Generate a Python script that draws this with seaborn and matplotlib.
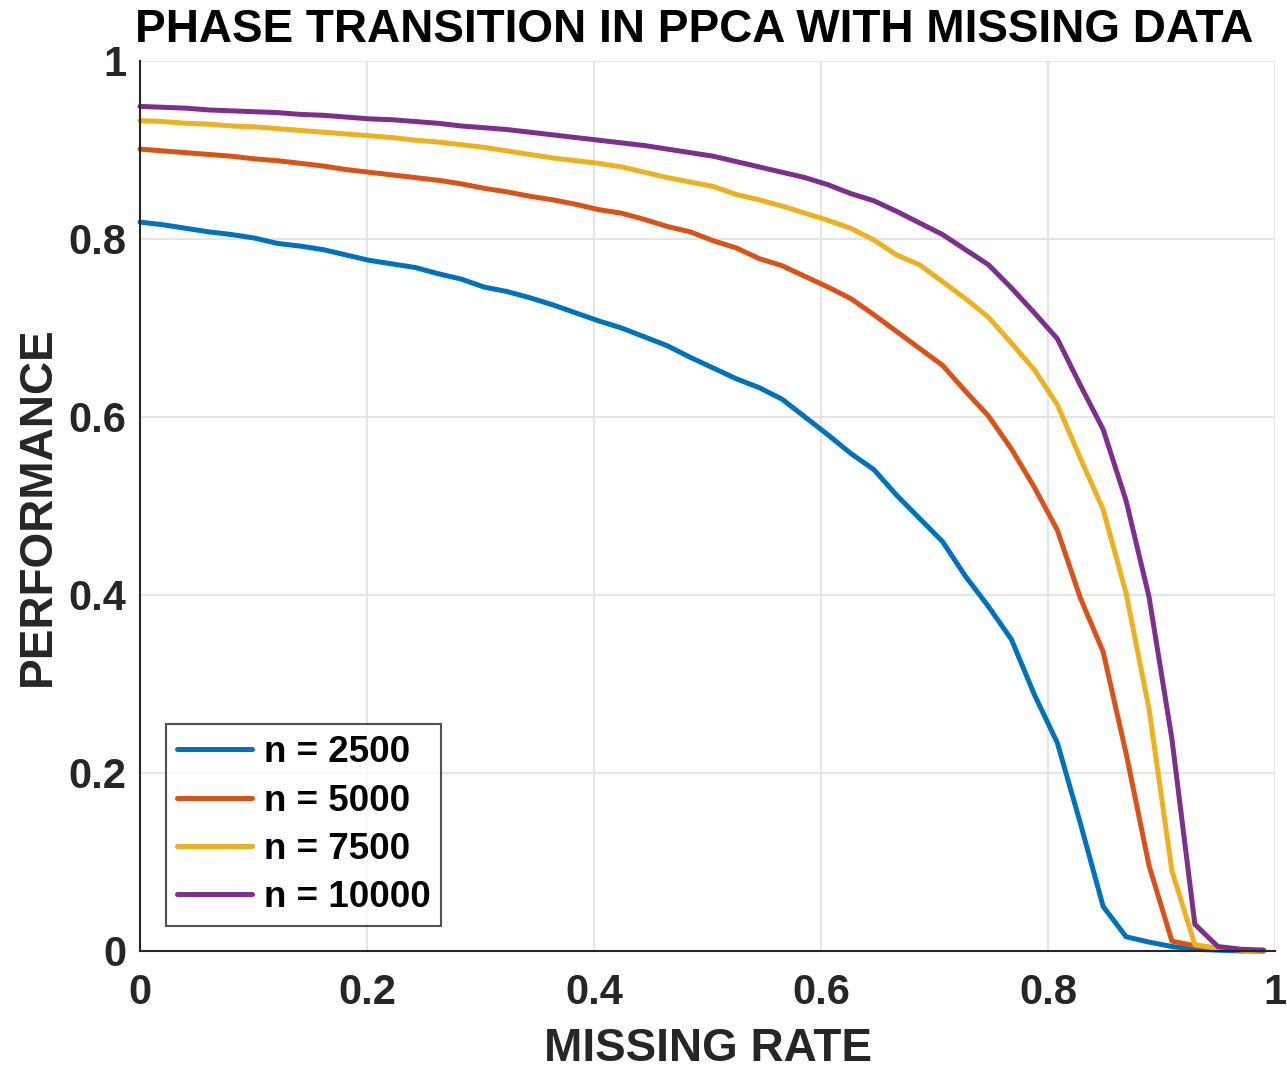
import numpy as np
import pandas as pd
import matplotlib
matplotlib.use("Agg")
import matplotlib.pyplot as plt
import seaborn as sns

# ---- data ----
missing_rate = [round(i * 0.99 / 49, 4) for i in range(50)]

perf_2500 = [0.819, 0.816, 0.812, 0.808, 0.805, 0.801, 0.795, 0.792, 0.788, 0.782,
             0.776, 0.772, 0.768, 0.761, 0.755, 0.746, 0.741, 0.734, 0.726, 0.717,
             0.708, 0.700, 0.690, 0.680, 0.667, 0.655, 0.643, 0.633, 0.620, 0.600,
             0.580, 0.559, 0.541, 0.512, 0.486, 0.460, 0.421, 0.387, 0.350, 0.288,
             0.234, 0.144, 0.050, 0.016, 0.010, 0.005, 0.002, 0.001, 0.000, 0.000]

perf_5000 = [0.901, 0.899, 0.897, 0.895, 0.893, 0.890, 0.888, 0.885, 0.882, 0.878,
             0.875, 0.872, 0.869, 0.866, 0.862, 0.857, 0.853, 0.848, 0.844, 0.839,
             0.833, 0.829, 0.822, 0.814, 0.808, 0.798, 0.790, 0.778, 0.770, 0.758,
             0.746, 0.733, 0.715, 0.696, 0.677, 0.658, 0.629, 0.601, 0.564, 0.521,
             0.473, 0.397, 0.336, 0.222, 0.096, 0.011, 0.006, 0.003, 0.001, 0.000]

perf_7500 = [0.933, 0.932, 0.930, 0.929, 0.927, 0.926, 0.924, 0.922, 0.920, 0.918,
             0.916, 0.914, 0.911, 0.909, 0.906, 0.903, 0.899, 0.895, 0.891, 0.888,
             0.885, 0.881, 0.875, 0.869, 0.864, 0.859, 0.850, 0.844, 0.837, 0.829,
             0.821, 0.812, 0.799, 0.782, 0.771, 0.752, 0.733, 0.712, 0.683, 0.653,
             0.614, 0.554, 0.496, 0.402, 0.272, 0.090, 0.007, 0.003, 0.001, 0.000]

perf_10000 = [0.949, 0.948, 0.947, 0.945, 0.944, 0.943, 0.942, 0.940, 0.939, 0.937,
              0.935, 0.934, 0.932, 0.930, 0.927, 0.925, 0.923, 0.920, 0.917, 0.914,
              0.911, 0.908, 0.905, 0.901, 0.897, 0.893, 0.887, 0.881, 0.875, 0.869,
              0.861, 0.851, 0.843, 0.831, 0.818, 0.805, 0.788, 0.771, 0.745, 0.717,
              0.688, 0.636, 0.586, 0.506, 0.398, 0.238, 0.030, 0.005, 0.002, 0.001]

series_labels = ["n = 2500", "n = 5000", "n = 7500", "n = 10000"]
series_colors = ["#0072BD", "#D95319", "#EDB120", "#7E2F8E"]
tick_vals = [0, 0.2, 0.4, 0.6, 0.8, 1]
tick_labels = ["0", "0.2", "0.4", "0.6", "0.8", "1"]

title_text = "PHASE TRANSITION IN PPCA WITH MISSING DATA"
xlabel_text = "MISSING RATE"
ylabel_text = "PERFORMANCE"

# ---- frame ----
frames = []
for lab, vals in zip(series_labels, [perf_2500, perf_5000, perf_7500, perf_10000]):
    frames.append(pd.DataFrame({"rate": missing_rate, "perf": vals, "n": lab}))
df = pd.concat(frames, ignore_index=True)

sns.set_style("white")
plt.rcParams["font.family"] = ["Liberation Sans", "DejaVu Sans"]
plt.rcParams["font.weight"] = "bold"

fig = plt.figure(figsize=(12.87, 10.71), dpi=100)
ax = fig.add_axes([140 / 1287, 1 - 951 / 1071, 1135 / 1287, 890 / 1071])

sns.lineplot(data=df, x="rate", y="perf", hue="n", hue_order=series_labels,
             palette=series_colors, linewidth=3.6, ax=ax, clip_on=False,
             estimator=None, sort=False)

ax.set_xlim(0, 1)
ax.set_ylim(0, 1)
ax.set_xticks(tick_vals)
ax.set_yticks(tick_vals)
ax.set_xticklabels(tick_labels)
ax.set_yticklabels(tick_labels)

text_col = "#262626"
ax.grid(True, color="#e3e3e3", linewidth=1.3)
ax.set_axisbelow(True)
for s in ["top", "right"]:
    ax.spines[s].set_visible(False)
for s in ["left", "bottom"]:
    ax.spines[s].set_color(text_col)
    ax.spines[s].set_linewidth(1.5)

ax.tick_params(axis="both", direction="in", length=8, width=1.5, color=text_col,
               labelsize=30, labelcolor=text_col)
ax.tick_params(axis="x", pad=16)
ax.tick_params(axis="y", pad=10)
for lab in ax.get_xticklabels() + ax.get_yticklabels():
    lab.set_fontweight("bold")

ax.set_xlabel(xlabel_text, fontsize=33, fontweight="bold", color=text_col, labelpad=10)
ax.set_ylabel(ylabel_text, fontsize=33, fontweight="bold", color=text_col, labelpad=6)
ax.set_title(title_text, fontsize=33, fontweight="bold", color="black",
             x=(694 - 140) / 1135, pad=14)

leg = ax.legend(loc="lower left", bbox_to_anchor=(0.0229, 0.028), borderaxespad=0,
                fontsize=26.5, frameon=True, fancybox=False, handlelength=2.05,
                handletextpad=0.3, labelspacing=0.36, borderpad=0.3, title=None)
leg.get_frame().set_edgecolor(text_col)
leg.get_frame().set_linewidth(1.5)
for t in leg.get_texts():
    t.set_fontweight("bold")
    t.set_color("black")
for h in leg.get_lines():
    h.set_linewidth(3.6)

fig.savefig("out.png", dpi=100)
